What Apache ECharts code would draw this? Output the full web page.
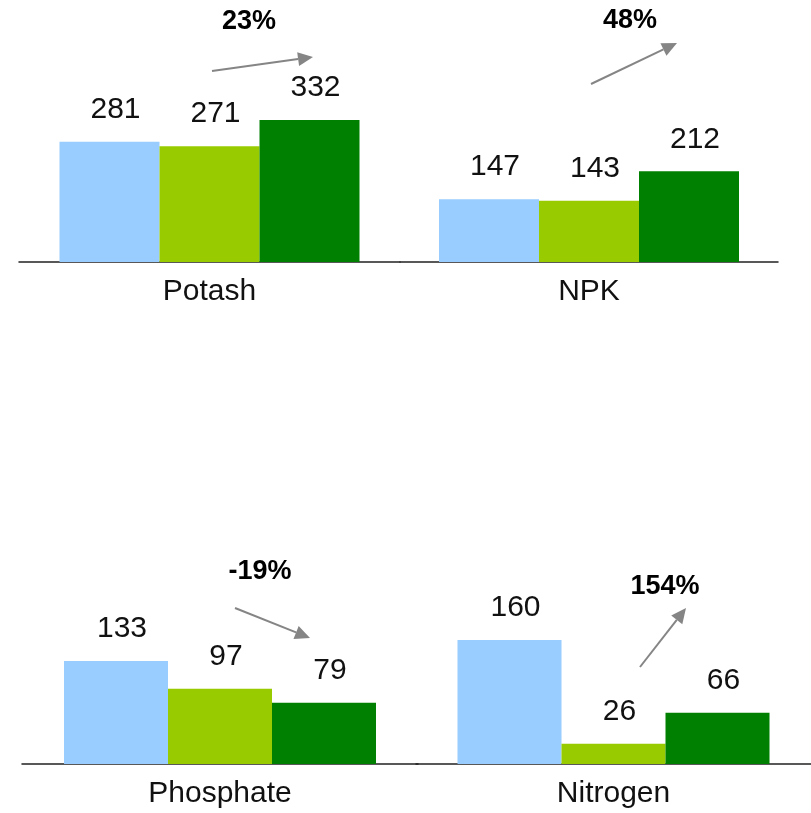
<!DOCTYPE html>
<html>
<head>
<meta charset="utf-8">
<script src="https://cdn.jsdelivr.net/npm/echarts@6/dist/echarts.min.js"></script>
<style>
  html, body { margin: 0; padding: 0; background: #fff; }
  #chart { width: 811px; height: 813px; }
</style>
</head>
<body>
<div id="chart"></div>
<script>
const panelNames = ['Potash', 'NPK', 'Phosphate', 'Nitrogen'];
const firstValues = [281, 147, 133, 160];
const secondValues = [271, 143, 97, 26];
const thirdValues = [332, 212, 79, 66];
const changeLabels = ['23%', '48%', '-19%', '154%'];

const barColors = ['#99ccff', '#99cc00', '#008000'];

// grid layout per panel (pixels)
const panels = [
  { left: 19, width: 381, top: 91, height: 171, max: 400, barWidth: 100 },
  { left: 400, width: 378, top: 91, height: 171, max: 400, barWidth: 100 },
  { left: 22, width: 396, top: 609, height: 155, max: 200, barWidth: 104 },
  { left: 416, width: 395, top: 609, height: 155, max: 200, barWidth: 104 }
];

// annotation placement: label centre, arrow start, arrow tip
const notes = [
  { text: [249, 22], from: [212, 71], to: [313, 57] },
  { text: [630, 21], from: [591, 84], to: [677, 43] },
  { text: [260, 572], from: [235, 608], to: [310, 638] },
  { text: [665, 587], from: [640, 667], to: [686, 608] }
];

const chart = echarts.init(document.getElementById('chart'), null, { renderer: 'canvas' });

const grid = [];
const xAxis = [];
const yAxis = [];
const series = [];
const seriesValues = [firstValues, secondValues, thirdValues];

panels.forEach((p, i) => {
  grid.push({ left: p.left, top: p.top, width: p.width, height: p.height });
  xAxis.push({
    type: 'category',
    gridIndex: i,
    data: [panelNames[i]],
    axisLine: { lineStyle: { color: '#222', width: 1.5 } },
    axisTick: { show: false },
    axisLabel: { color: '#111', fontSize: 30, fontFamily: 'Liberation Sans', margin: 15 }
  });
  yAxis.push({
    type: 'value',
    gridIndex: i,
    min: 0,
    max: p.max,
    show: false,
    splitLine: { show: false }
  });
  seriesValues.forEach((vals, k) => {
    series.push({
      type: 'bar',
      xAxisIndex: i,
      yAxisIndex: i,
      barWidth: p.barWidth,
      barGap: '0%',
      data: [vals[i]],
      itemStyle: { color: barColors[k] },
      label: {
        show: true,
        position: 'top',
        distance: 17,
        offset: [6, 0],
        color: '#111',
        fontSize: 30,
        fontFamily: 'Liberation Sans'
      },
      silent: true
    });
  });
});

function arrowHead(from, to, len, half) {
  const dx = to[0] - from[0];
  const dy = to[1] - from[1];
  const d = Math.hypot(dx, dy);
  const ux = dx / d, uy = dy / d;
  const bx = to[0] - ux * len, by = to[1] - uy * len;
  return [to, [bx - uy * half, by + ux * half], [bx + uy * half, by - ux * half]];
}

const graphic = [];
notes.forEach((n, i) => {
  graphic.push({
    type: 'text',
    x: n.text[0],
    y: n.text[1],
    style: {
      text: changeLabels[i],
      fill: '#000',
      font: 'bold 27px "Liberation Sans"',
      align: 'center',
      verticalAlign: 'middle'
    }
  });
  const head = arrowHead(n.from, n.to, 15, 7);
  const baseMid = [(head[1][0] + head[2][0]) / 2, (head[1][1] + head[2][1]) / 2];
  graphic.push({
    type: 'line',
    shape: { x1: n.from[0], y1: n.from[1], x2: baseMid[0], y2: baseMid[1] },
    style: { stroke: '#858585', lineWidth: 2 }
  });
  graphic.push({
    type: 'polygon',
    shape: { points: head },
    style: { fill: '#858585' }
  });
});

chart.setOption({
  animation: false,
  grid,
  xAxis,
  yAxis,
  series,
  graphic
});
</script>
</body>
</html>
